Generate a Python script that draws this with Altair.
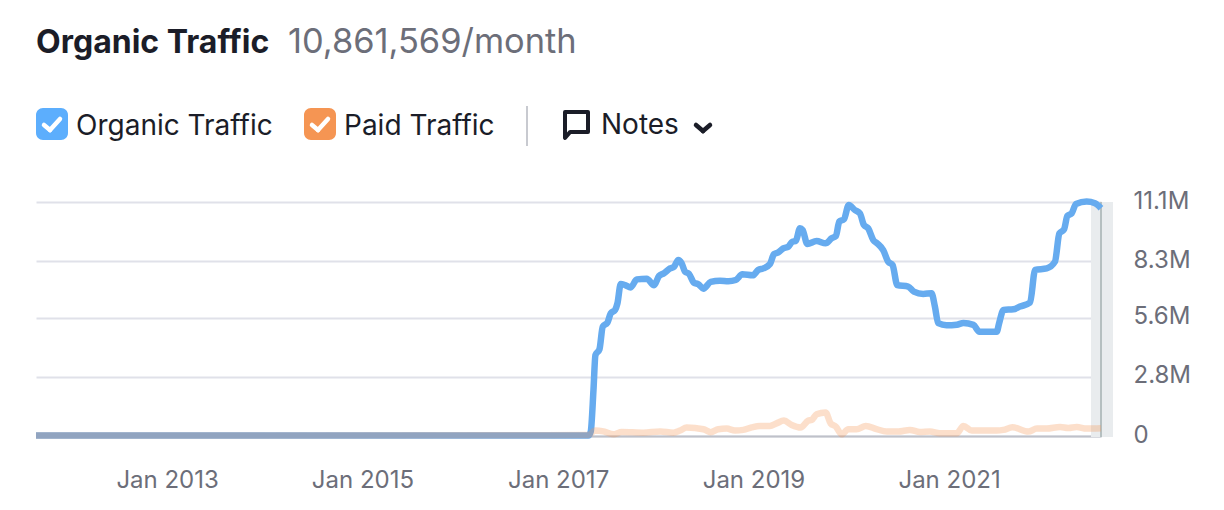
import altair as alt
import pandas as pd

# readings from the picture: decimal year and traffic in millions
organic_years = [2011.66, 2014.0, 2016.5, 2017.31, 2017.334, 2017.362, 2017.382, 2017.423, 2017.457, 2017.505, 2017.539, 2017.583, 2017.607, 2017.641, 2017.685, 2017.743, 2017.805, 2017.907, 2017.982, 2018.033, 2018.084, 2018.146, 2018.187, 2018.231, 2018.265, 2018.299, 2018.34, 2018.391, 2018.436, 2018.487, 2018.562, 2018.657, 2018.743, 2018.818, 2018.886, 2018.992, 2019.05, 2019.101, 2019.169, 2019.21, 2019.254, 2019.305, 2019.356, 2019.391, 2019.435, 2019.476, 2019.503, 2019.551, 2019.646, 2019.738, 2019.8, 2019.844, 2019.878, 2019.926, 2019.975, 2020.038, 2020.09, 2020.131, 2020.175, 2020.226, 2020.267, 2020.328, 2020.379, 2020.424, 2020.472, 2020.584, 2020.642, 2020.738, 2020.823, 2020.857, 2020.891, 2020.976, 2021.079, 2021.147, 2021.249, 2021.31, 2021.488, 2021.512, 2021.556, 2021.658, 2021.726, 2021.829, 2021.88, 2021.999, 2022.084, 2022.129, 2022.177, 2022.211, 2022.255, 2022.299, 2022.408, 2022.494, 2022.555]
organic_values = [0.02, 0.02, 0.02, 0.02, 0.21, 2.18, 3.84, 4.11, 5.19, 5.38, 5.82, 5.98, 6.29, 7.21, 7.16, 7.05, 7.43, 7.46, 7.15, 7.59, 7.72, 7.95, 8.03, 8.35, 8.19, 7.8, 7.69, 7.27, 7.2, 6.99, 7.31, 7.37, 7.34, 7.4, 7.67, 7.62, 7.88, 7.95, 8.16, 8.63, 8.71, 8.9, 8.98, 9.19, 9.27, 9.85, 9.77, 9.11, 9.25, 9.14, 9.38, 9.49, 10.17, 10.28, 10.96, 10.72, 10.56, 10.01, 9.85, 9.3, 9.14, 8.82, 8.27, 8.11, 7.16, 7.09, 6.85, 6.74, 6.77, 6.14, 5.35, 5.25, 5.28, 5.36, 5.27, 4.95, 4.95, 5.35, 5.98, 6.01, 6.14, 6.33, 7.88, 7.95, 8.27, 9.61, 9.8, 10.44, 10.56, 11.01, 11.12, 11.04, 10.8]
paid_years = [2011.66, 2014.0, 2016.5, 2017.31, 2017.379, 2017.464, 2017.566, 2017.651, 2017.873, 2018.044, 2018.18, 2018.248, 2018.316, 2018.487, 2018.562, 2018.64, 2018.726, 2018.811, 2018.896, 2018.981, 2019.067, 2019.169, 2019.237, 2019.312, 2019.391, 2019.483, 2019.561, 2019.595, 2019.646, 2019.738, 2019.789, 2019.844, 2019.902, 2019.97, 2020.056, 2020.151, 2020.26, 2020.362, 2020.482, 2020.601, 2020.703, 2020.806, 2020.908, 2021.079, 2021.147, 2021.232, 2021.488, 2021.556, 2021.648, 2021.812, 2021.897, 2021.999, 2022.136, 2022.221, 2022.306, 2022.408, 2022.555]
paid_values = [0.02, 0.02, 0.03, 0.05, 0.26, 0.22, 0.08, 0.19, 0.16, 0.21, 0.16, 0.26, 0.4, 0.32, 0.18, 0.32, 0.35, 0.26, 0.29, 0.41, 0.48, 0.48, 0.6, 0.73, 0.52, 0.4, 0.73, 0.76, 1.03, 1.12, 0.6, 0.44, 0.08, 0.32, 0.32, 0.48, 0.33, 0.21, 0.21, 0.29, 0.19, 0.21, 0.13, 0.13, 0.48, 0.26, 0.26, 0.29, 0.41, 0.21, 0.35, 0.35, 0.43, 0.38, 0.43, 0.35, 0.37]
tick_years = ["2013-01-01", "2015-01-01", "2017-01-01", "2019-01-01", "2021-01-01"]
tick_values = [0, 2.8, 5.6, 8.3, 11.1]

TITLE = "Organic Traffic"
SUBTITLE = "10,861,569/month"
FONT = "Inter"
INK = "#1B1D28"
GREY = "#6C6E79"
BLUE = "#5CAEFD"
ORANGE = "#F59553"
LINE_BLUE = "#66ABEF"


def to_date(y):
    year = int(y)
    return pd.Timestamp(year=year, month=1, day=1) + pd.Timedelta(days=(y - year) * 365.25)


OX, OY = 36, 202  # page position of the plot origin
one = pd.DataFrame({"a": [0]})


def X(px):
    return alt.value(px - OX)


def Y(py):
    return alt.value(py - OY)


def text(s, px, py, size, color=INK, weight=400):
    return alt.Chart(one).mark_text(
        text=s, align="left", baseline="alphabetic", font=FONT,
        fontSize=size, color=color, fontWeight=weight,
    ).encode(x=X(px), y=Y(py))


def seg(x1, y1, x2, y2, color, width, cap="round"):
    return alt.Chart(one).mark_rule(color=color, strokeWidth=width, strokeCap=cap).encode(
        x=X(x1), x2=X(x2), y=Y(y1), y2=Y(y2))


def box(x1, y1, x2, y2, color, radius=0):
    return alt.Chart(one).mark_rect(color=color, cornerRadius=radius).encode(
        x=X(x1), x2=X(x2), y=Y(y1), y2=Y(y2))


x_scale = alt.Scale(domain=[to_date(2011.66).isoformat(), to_date(2022.555).isoformat()])
y_scale = alt.Scale(domain=[0, 11.1], nice=False)

organic = pd.DataFrame({"date": [to_date(v) for v in organic_years], "value": organic_values})
paid = pd.DataFrame({"date": [to_date(v) for v in paid_years], "value": paid_values})

x_axis = alt.Axis(
    values=tick_years, format="%b %Y", title=None, grid=False, ticks=False,
    domain=True, domainColor="#BFC1C9", domainWidth=2,
    labelFont=FONT, labelFontSize=24, labelColor=GREY, labelPadding=32,
    labelAlign="center", labelFlush=False, labelOverlap=False,
)
y_axis = alt.Axis(
    values=tick_values, orient="right", title=None, ticks=False, domain=False,
    grid=True, gridColor="#E0E1E9", gridWidth=2,
    labelExpr="datum.value === 0 ? '0' : format(datum.value, '.1f') + 'M'",
    labelFont=FONT, labelFontSize=24, labelColor=GREY, labelPadding=32, labelBaseline="middle",
    labelOffset=-1,
)

axes = alt.Chart(organic).mark_line(opacity=0).encode(
    x=alt.X("date:T", scale=x_scale, axis=x_axis),
    y=alt.Y("value:Q", scale=y_scale, axis=y_axis),
)
band = box(1091, 202, 1113, 437, "#E9ECEE")
cursor = seg(1101, 202, 1101, 437, "#B5BFC0", 2, "butt")
organic_line = alt.Chart(organic).mark_line(
    color=LINE_BLUE, strokeWidth=6.5, interpolate="monotone", strokeJoin="round", strokeCap="butt"
).encode(x=alt.X("date:T", scale=x_scale), y=alt.Y("value:Q", scale=y_scale))
paid_line = alt.Chart(paid).mark_line(
    color=ORANGE, opacity=0.3, strokeWidth=6.5, interpolate="monotone", strokeJoin="round", strokeCap="butt"
).encode(x=alt.X("date:T", scale=x_scale), y=alt.Y("value:Q", scale=y_scale))

bubble = alt.Chart(one).mark_point(
    shape="M-1,-1.13 H1 V0.6 H-0.55 L-1,1.13 Z", size=529, filled=False,
    stroke=INK, strokeWidth=4, opacity=1, strokeJoin="round",
).encode(x=X(576.5), y=Y(125))

chart = alt.layer(
    axes, band, cursor, organic_line, paid_line,
    text(TITLE, 36, 53, 32, INK, 700),
    text(SUBTITLE, 288, 53, 34.4, GREY),
    box(36, 108, 68, 140, BLUE, 7),
    seg(44, 125, 50, 130, "#FFFFFF", 4.5),
    seg(50, 130, 60, 119, "#FFFFFF", 4.5),
    text(TITLE, 76, 135, 28),
    box(304, 108, 336, 140, ORANGE, 7),
    seg(312, 125, 318, 130, "#FFFFFF", 4.5),
    seg(318, 130, 328, 119, "#FFFFFF", 4.5),
    text("Paid Traffic", 344, 135, 28),
    seg(527, 106, 527, 146, "#C8CAD0", 2, "butt"),
    bubble,
    text("Notes", 601, 134, 28),
    seg(696, 125, 703, 131, INK, 4.5),
    seg(703, 131, 710, 125, INK, 4.5),
).properties(
    width=1065, height=234,
    autosize=alt.AutoSizeParams(type="none"),
    padding={"left": 28, "top": 194, "right": 115, "bottom": 66},
).configure_view(stroke=None)

chart.save("out.html", embed_options={"renderer": "svg", "actions": False})
